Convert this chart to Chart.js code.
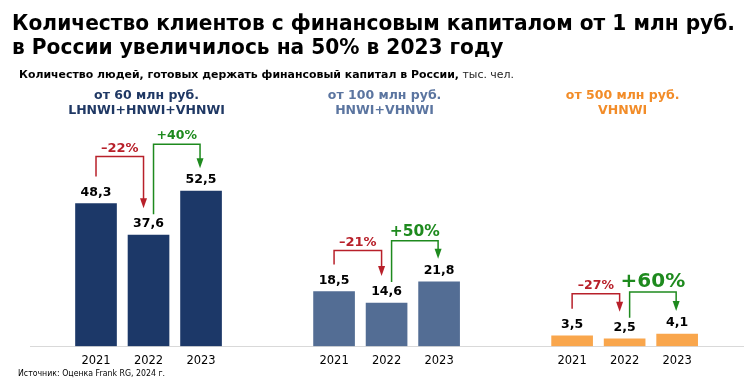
<!DOCTYPE html>
<html>
<head>
<meta charset="utf-8">
<script src="https://cdn.jsdelivr.net/npm/chart.js@4.4.1/dist/chart.umd.min.js"></script>
<style>
  html, body { margin: 0; padding: 0; background: #ffffff; }
  #wrap { width: 750px; height: 390px; position: relative; }
</style>
</head>
<body>
<div id="wrap"><canvas id="c" width="750" height="390"></canvas></div>
<script>
// ---------- DATA ----------
const titleLines = ['Количество клиентов с финансовым капиталом от 1 млн руб.', 'в России увеличилось на 50% в 2023 году'];
const subtitleBold = 'Количество людей, готовых держать финансовый капитал в России,';
const subtitleNormal = ' тыс. чел.';
const sourceText = 'Источник: Оценка Frank RG, 2024 г.';
const years = ['2021', '2022', '2023'];
const groupHeaders = [
  ['от 60 млн руб.', 'LHNWI+HNWI+VHNWI'],
  ['от 100 млн руб.', 'HNWI+VHNWI'],
  ['от 500 млн руб.', 'VHNWI']
];
const lhnwiValues = [48.3, 37.6, 52.5];
const hnwiValues = [18.5, 14.6, 21.8];
const vhnwiValues = [3.5, 2.5, 4.1];
const declineLabels = ['–22%', '–21%', '–27%'];
const growthLabels = ['+40%', '+50%', '+60%'];

// ---------- STYLE ----------
const barColors = ['#1c3868', '#536d94', '#f9a64c'];
const headerColors = ['#1f3864', '#5b75a0', '#f28c28'];
const redColor = '#b8202a';
const greenColor = '#1e8a1e';
const growthFontSizes = [12.5, 15.5, 20];
const declineFontSizes = [13, 13, 12.5];
const arrowRise = [47, 41, 42];
const GROUP_STEP = 4.533;

const groups = [lhnwiValues, hnwiValues, vhnwiValues];
const tickPositions = [];
const datasets = groups.map((vals, g) => {
  const pts = vals.map((v, i) => {
    tickPositions.push(g * GROUP_STEP + i);
    return { x: g * GROUP_STEP + i, y: v };
  });
  return {
    data: pts,
    backgroundColor: barColors[g],
    borderWidth: 0,
    barThickness: 41,
    grouped: false
  };
});

const fmt = v => v.toFixed(1).replace('.', ',');
const FAM = '"DejaVu Sans", Verdana, sans-serif';

// draw text horizontally compressed/stretched so its width equals target
function drawFitted(ctx, text, x, y, font, target) {
  ctx.font = font;
  const w = ctx.measureText(text).width;
  const k = target / w;
  ctx.save();
  ctx.translate(x, y);
  ctx.scale(k, 1);
  ctx.fillText(text, 0, 0);
  ctx.restore();
  return k;
}

function drawArrow(ctx, x1, y1, yTop, x2, y2, color) {
  ctx.save();
  ctx.strokeStyle = color;
  ctx.fillStyle = color;
  ctx.lineWidth = 1.5;
  ctx.beginPath();
  ctx.moveTo(x1, y1);
  ctx.lineTo(x1, yTop);
  ctx.lineTo(x2, yTop);
  ctx.lineTo(x2, y2 - 8);
  ctx.stroke();
  ctx.beginPath();
  ctx.moveTo(x2 - 3.5, y2 - 10);
  ctx.lineTo(x2 + 3.5, y2 - 10);
  ctx.lineTo(x2, y2);
  ctx.closePath();
  ctx.fill();
  ctx.restore();
}

const annotate = {
  id: 'annotate',
  afterDraw(chart) {
    const ctx = chart.ctx;
    ctx.save();
    // Title
    ctx.fillStyle = '#000';
    ctx.textAlign = 'left';
    ctx.textBaseline = 'alphabetic';
    const titleFont = 'bold 20.5px ' + FAM;
    const k = drawFitted(ctx, titleLines[0], 12, 30, titleFont, 723);
    ctx.save();
    ctx.font = titleFont;
    ctx.translate(12, 54);
    ctx.scale(k, 1);
    ctx.fillText(titleLines[1], 0, 0);
    ctx.restore();
    // Subtitle
    const subFont = 'bold 11px ' + FAM;
    ctx.font = subFont;
    const wb = ctx.measureText(subtitleBold).width;
    ctx.font = 'normal 11px ' + FAM;
    const wn = ctx.measureText(subtitleNormal).width;
    const ks = 495 / (wb + wn);
    ctx.save();
    ctx.translate(19, 77.5);
    ctx.scale(ks, 1);
    ctx.font = subFont;
    ctx.fillText(subtitleBold, 0, 0);
    ctx.font = 'normal 11px ' + FAM;
    ctx.fillStyle = '#222';
    ctx.fillText(subtitleNormal, wb, 0);
    ctx.restore();
    // Source
    ctx.fillStyle = '#000';
    drawFitted(ctx, sourceText, 18, 376, 'normal 9.5px ' + FAM, 147);

    // Group headers, values and arrows
    chart.data.datasets.forEach((ds, g) => {
      const bars = chart.getDatasetMeta(g).data;
      ctx.textAlign = 'center';
      ctx.fillStyle = headerColors[g];
      ctx.font = 'bold 12.5px ' + FAM;
      ctx.fillText(groupHeaders[g][0], bars[1].x - 2, 99);
      ctx.fillText(groupHeaders[g][1], bars[1].x - 2, 114);

      // value labels
      ctx.fillStyle = '#000';
      ctx.font = 'bold 12.5px ' + FAM;
      ctx.textBaseline = 'middle';
      bars.forEach((b, i) => {
        ctx.fillText(fmt(groups[g][i]), b.x, b.y - 11);
      });
      ctx.textBaseline = 'alphabetic';

      // decline arrow (2021 -> 2022)
      const rTop = Math.min(bars[0].y, bars[1].y) - arrowRise[g];
      const rx1 = bars[0].x, rx2 = bars[1].x - 5;
      drawArrow(ctx, rx1, bars[0].y - 27, rTop, rx2, bars[1].y - 27, redColor);
      ctx.fillStyle = redColor;
      ctx.font = 'bold ' + declineFontSizes[g] + 'px ' + FAM;
      ctx.fillText(declineLabels[g], (rx1 + rx2) / 2, rTop - 5);

      // growth arrow (2022 -> 2023)
      const gTop = Math.min(bars[1].y, bars[2].y) - arrowRise[g];
      const gx1 = bars[1].x + 5, gx2 = bars[2].x - 1;
      drawArrow(ctx, gx1, bars[1].y - 21, gTop, gx2, bars[2].y - 23, greenColor);
      ctx.fillStyle = greenColor;
      ctx.font = 'bold ' + growthFontSizes[g] + 'px ' + FAM;
      ctx.fillText(growthLabels[g], (gx1 + gx2) / 2, gTop - 5);
    });
    ctx.restore();
  }
};

new Chart(document.getElementById('c'), {
  type: 'bar',
  data: { datasets },
  options: {
    responsive: false,
    animation: false,
    layout: { padding: { left: 30, right: 7, top: 120, bottom: 14 } },
    plugins: { legend: { display: false }, tooltip: { enabled: false }, title: { display: false } },
    scales: {
      x: {
        type: 'linear',
        min: -1.257,
        max: 12.32,
        offset: false,
        grid: { display: false, drawTicks: false },
        border: { display: true, color: '#d9d9d9', width: 1 },
        afterBuildTicks: scale => { scale.ticks = tickPositions.map(v => ({ value: v })); },
        ticks: {
          autoSkip: false,
          maxRotation: 0,
          padding: 8,
          color: '#000',
          font: { family: '"DejaVu Sans", Verdana, sans-serif', size: 11.5 },
          callback: (v, i) => years[i % 3]
        }
      },
      y: {
        display: false,
        min: 0,
        max: 76.6,
        grid: { display: false }
      }
    }
  },
  plugins: [annotate]
});
</script>
</body>
</html>
